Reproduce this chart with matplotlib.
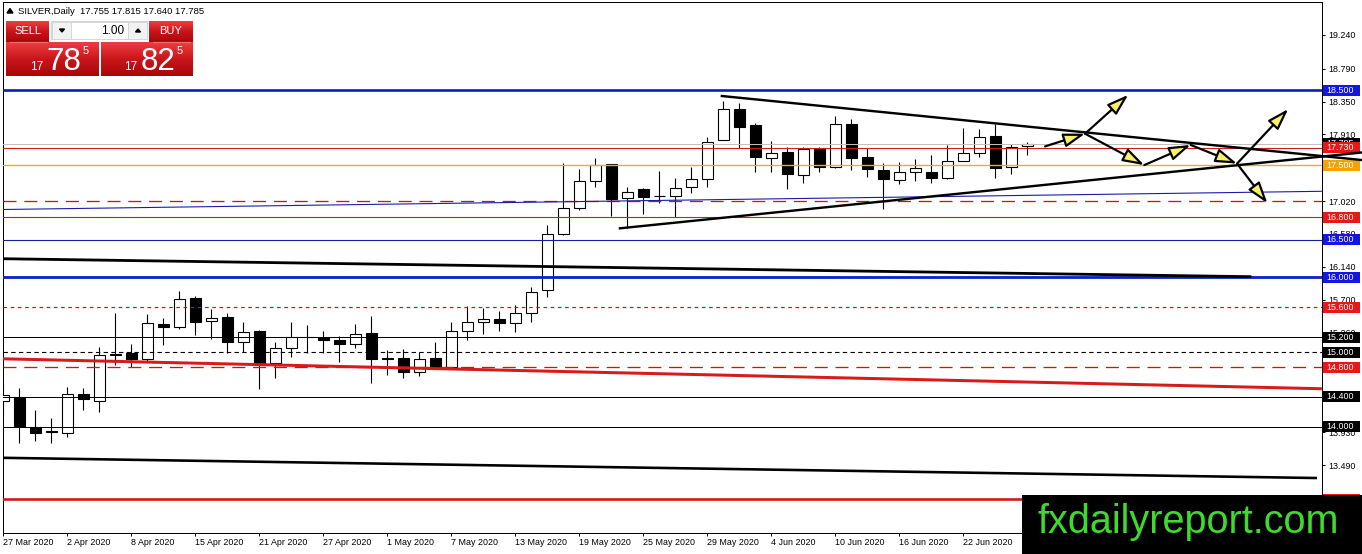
import numpy as np
import matplotlib.pyplot as plt
from matplotlib.patches import Rectangle, Polygon
from matplotlib.transforms import blended_transform_factory
from matplotlib.colors import LinearSegmentedColormap

plt.rcParams['font.family'] = ['Liberation Sans', 'DejaVu Sans']

# SILVER daily candles, 27 Mar 2020 .. 26 Jun 2020 (bar index 0..64)
opens = [14.346, 14.40, 14.00, 13.94, 13.914, 14.44, 14.35, 14.97, 14.984, 14.904,
         15.375, 15.331, 15.719, 15.42, 15.465, 15.139, 15.282, 14.85, 15.05, 15.205,
         15.19, 15.161, 15.104, 15.259, 14.92, 14.92, 14.737, 14.917, 14.80, 15.286,
         15.406, 15.44, 15.393, 15.518, 15.83, 16.575, 16.923, 17.292, 17.515, 17.056,
         17.18, 17.09, 17.087, 17.204, 17.31, 17.836, 18.246, 18.036, 17.591, 17.672,
         17.368, 17.716, 17.471, 18.05, 17.605, 17.435, 17.301, 17.404, 17.404, 17.324,
         17.559, 17.658, 17.89, 17.471, 17.755]
highs = [14.60, 14.52, 14.225, 14.115, 14.53, 14.52, 15.064, 15.527, 15.108, 15.509,
         15.451, 15.817, 15.75, 15.572, 15.52, 15.398, 15.295, 15.14, 15.406, 15.362,
         15.286, 15.22, 15.375, 15.482, 15.028, 15.037, 15.005, 15.14, 15.398, 15.616,
         15.585, 15.55, 15.63, 15.874, 16.699, 17.524, 17.444, 17.591, 17.52, 17.212,
         17.19, 17.42, 17.324, 17.47, 17.88, 18.357, 18.335, 18.06, 17.822, 17.738,
         17.746, 17.738, 18.157, 18.113, 17.725, 17.532, 17.538, 17.582, 17.635, 17.769,
         17.992, 17.979, 18.05, 17.782, 17.815]
lows = [14.13, 13.78, 13.815, 13.78, 13.87, 14.225, 14.203, 14.827, 14.80, 14.87,
        15.095, 15.304, 15.228, 15.17, 14.984, 15.005, 14.502, 14.65, 14.93, 14.984,
        14.984, 14.87, 15.058, 14.583, 14.693, 14.657, 14.68, 14.79, 14.79, 15.161,
        15.238, 15.282, 15.272, 15.406, 15.73, 16.56, 16.90, 17.211, 16.82, 16.655,
        16.846, 16.99, 16.81, 17.131, 17.21, 17.83, 17.725, 17.412, 17.412, 17.177,
        17.265, 17.412, 17.46, 17.435, 17.337, 16.909, 17.243, 17.292, 17.257, 17.32,
        17.55, 17.613, 17.332, 17.381, 17.64]
closes = [14.426, 14.01, 13.92, 13.93, 14.435, 14.37, 14.957, 14.96, 14.904, 15.385,
          15.331, 15.706, 15.406, 15.45, 15.139, 15.272, 14.858, 15.05, 15.197, 15.198,
          15.165, 15.104, 15.238, 14.907, 14.905, 14.737, 14.903, 14.80, 15.286, 15.406,
          15.44, 15.393, 15.518, 15.807, 16.575, 16.923, 17.292, 17.502, 17.047, 17.144,
          17.07, 17.085, 17.198, 17.31, 17.805, 18.246, 18.014, 17.605, 17.658, 17.377,
          17.712, 17.471, 18.05, 17.591, 17.444, 17.31, 17.404, 17.457, 17.324, 17.555,
          17.658, 17.88, 17.457, 17.746, 17.785]

date_ticks = [0, 4, 8, 12, 16, 20, 24, 28, 32, 36, 40, 44, 48, 52, 56, 60]
date_labels = ['27 Mar 2020', '2 Apr 2020', '8 Apr 2020', '15 Apr 2020', '21 Apr 2020',
               '27 Apr 2020', '1 May 2020', '7 May 2020', '13 May 2020', '19 May 2020',
               '25 May 2020', '29 May 2020', '4 Jun 2020', '10 Jun 2020', '16 Jun 2020',
               '22 Jun 2020']
price_ticks = [19.240, 18.790, 18.350, 17.910, 17.470, 17.020, 16.580, 16.140,
               15.700, 15.260, 14.820, 14.375, 13.930, 13.490]

# horizontal levels drawn on the chart
levels = [18.5, 17.785, 17.73, 17.5, 17.02, 16.8, 16.5, 16.0, 15.6, 15.2, 15.0, 14.8,
          14.4, 14.0, 13.03]

# sloped trend lines (bar index, price) pairs
trend_x = [(-0.22, 82.4), (-0.22, 78.0), (-0.22, 82.4), (-0.22, 82.1)]
trend_y = [(16.906, 17.15), (16.249, 16.008), (14.911, 14.51), (13.587, 13.316)]
# triangle lines
tri_x = [(38.53, 84.9), (44.9, 84.9)]
tri_y = [(16.655, 17.669), (18.424, 17.568)]
# scenario arrows
arrow_x = [65.1, 67.6, 70.3, 71.3, 74.2, 77.1, 80.3, 79.0]
arrow_y = [17.75, 17.92, 18.44, 17.50, 17.77, 17.52, 18.25, 16.99]
arrow_pairs = [(0, 1), (1, 2), (1, 3), (3, 4), (4, 5), (5, 6), (5, 7)]

W, H = 1362, 554
fig = plt.figure(figsize=(W / 100, H / 100), dpi=100)
ax = fig.add_axes([3 / W, (H - 533) / H, (1322 - 3) / W, (533 - 2) / H])
ax.set_xlim(-0.03, 82.41)
ax.set_ylim(12.581, 19.681)

px = 0.72  # one pixel in points

# candles
o = np.array(opens); h = np.array(highs); l = np.array(lows); c = np.array(closes)
x = np.arange(len(o))
ax.vlines(x, l, h, color='black', lw=1.1 * px, zorder=2)
bottom = np.minimum(o, c)
height = np.maximum(np.abs(c - o), 0.004)
faces = ['white' if cc > oo else 'black' for oo, cc in zip(o, c)]
ax.bar(x, height, bottom=bottom, width=0.66, color=faces, edgecolor='black',
       linewidth=1.1 * px, zorder=3)

# level styles
lvl_style = {
    18.5: ('#0A1CB0', 2.6 * px, '-'),
    17.785: ('#C0C0C0', px, '-'),
    17.73: ('#C81E1E', 1.1 * px, '-'),
    17.5: ('#E6B020', 1.4 * px, '-'),
    17.02: ('#D41010', 1.3 * px, (0, (10, 6))),
    16.8: ('#C81E1E', 1.1 * px, '-'),
    16.5: ('#1020A0', 1.1 * px, '-'),
    16.0: ('#0B22C8', 2.8 * px, '-'),
    15.6: ('#D41010', 1.2 * px, (0, (3, 3))),
    15.2: ('black', px, '-'),
    15.0: ('black', 1.1 * px, (0, (4, 3))),
    14.8: ('#D41010', 1.3 * px, (0, (10, 6))),
    14.4: ('black', px, '-'),
    14.0: ('black', px, '-'),
    13.03: ('#D01818', 2.6 * px, '-'),
}
for lv in levels:
    col, lw, ls = lvl_style[lv]
    ax.axhline(lv, color=col, lw=lw, linestyle=ls, zorder=4)

trend_style = [('#1A1AA8', 1.1 * px), ('black', 2.8 * px), ('#D81A1A', 3.0 * px),
               ('black', 2.6 * px)]
for (xs, ys), (col, lw) in zip(zip(trend_x, trend_y), trend_style):
    ax.plot(xs, ys, color=col, lw=lw, zorder=4, solid_capstyle='butt')

for xs, ys in zip(tri_x, tri_y):
    ax.plot(xs, ys, color='black', lw=2.4 * px, zorder=6, clip_on=False)

for a, b in arrow_pairs:
    ax.annotate('', xy=(arrow_x[b], arrow_y[b]), xytext=(arrow_x[a], arrow_y[a]),
                annotation_clip=False,
                arrowprops=dict(arrowstyle='-|>,head_length=1.3,head_width=0.42',
                                mutation_scale=10, fc='#F6F06A', ec='black',
                                lw=2.2 * px, shrinkA=0, shrinkB=0), zorder=7)

# axes cosmetics
for s in ax.spines.values():
    s.set_color('black')
    s.set_linewidth(px)
ax.yaxis.tick_right()
ax.set_yticks(price_ticks)
ax.set_yticklabels([f'{v:.3f}' for v in price_ticks])
ax.set_xticks(date_ticks)
ax.set_xticklabels(date_labels)
for t in ax.get_xticklabels():
    t.set_ha('left')
ax.tick_params(axis='y', length=2.2, width=px, pad=2.2, labelsize=6.4, colors='black')
ax.tick_params(axis='x', length=2.2, width=px, pad=1.5, labelsize=6.4, colors='black')

# price label boxes on the right scale
box_color = {18.5: '#1414E6', 17.785: 'black', 17.73: '#E81818', 17.5: '#F5A300',
             16.8: '#E81818', 16.5: '#1414E6', 16.0: '#1414E6', 15.6: '#E81818',
             15.2: 'black', 15.0: 'black', 14.8: '#E81818', 14.4: 'black',
             14.0: 'black', 13.03: '#E81818'}
tr = blended_transform_factory(fig.transFigure, ax.transData)
bh = 11 / 74.78
for lv in levels:
    if lv not in box_color:
        continue
    ax.add_patch(Rectangle((1323 / W, lv - bh / 2), 37 / W, bh, transform=tr,
                           facecolor=box_color[lv], edgecolor='none', clip_on=False,
                           zorder=5))
    ax.text(1326.5 / W, lv, f'{lv:.3f}', transform=tr, color='white', fontsize=6.4,
            va='center', ha='left', clip_on=False, zorder=5)

# overlay in pixel coordinates for the trade panel and branding
ov = fig.add_axes([0, 0, 1, 1])
ov.set_zorder(10)
ov.patch.set_visible(False)
ov.axis('off')

red_cmap = LinearSegmentedColormap.from_list('redgrad', ['#EE3D42', '#C8161B', '#A9070B'])
grad = np.linspace(0, 1, 40).reshape(-1, 1)


def red_block(x0, y0, x1, y1):
    ov.imshow(grad, cmap=red_cmap, extent=(x0, x1, y1, y0), aspect='auto',
              origin='upper', zorder=1)


red_block(6, 21, 49, 42)
red_block(6, 42, 99, 76)
red_block(149, 21, 193, 42)
red_block(101, 42, 193, 76)
ov.plot([10, 47], [42, 42], color='#F07070', lw=0.8, zorder=2)
ov.plot([153, 190], [42, 42], color='#F07070', lw=0.8, zorder=2)

ov.add_patch(Rectangle((51, 21), 97, 19, facecolor='#D6D6D6', edgecolor='none', zorder=1))
ov.add_patch(Rectangle((52.5, 22.5), 18.5, 16, facecolor='#F2F2F2', edgecolor='none', zorder=2))
ov.add_patch(Rectangle((72, 22.5), 56, 16, facecolor='white', edgecolor='none', zorder=2))
ov.add_patch(Rectangle((129, 22.5), 18, 16, facecolor='#F2F2F2', edgecolor='none', zorder=2))
ov.add_patch(Polygon([(59.5, 29), (64.5, 29), (62, 32)], closed=True, color='black', zorder=3))
ov.add_patch(Polygon([(135.5, 32), (140.5, 32), (138, 29)], closed=True, color='black', zorder=3))
ov.text(124, 30.5, '1.00', fontsize=8.5, ha='right', va='center', color='black', zorder=3)

ov.text(27.5, 31.5, 'SELL', fontsize=8, ha='center', va='center', color='white', zorder=3)
ov.text(171, 31.5, 'BUY', fontsize=8, ha='center', va='center', color='white', zorder=3)
ov.text(30, 70, '17', fontsize=8.5, ha='left', va='baseline', color='white', zorder=3)
ov.text(46.5, 70, '78', fontsize=22.5, ha='left', va='baseline', color='white', zorder=3)
ov.text(83, 46, '5', fontsize=8, ha='left', va='top', color='white', zorder=3)
ov.text(124, 70, '17', fontsize=8.5, ha='left', va='baseline', color='white', zorder=3)
ov.text(140.5, 70, '82', fontsize=22.5, ha='left', va='baseline', color='white', zorder=3)
ov.text(177, 46, '5', fontsize=8, ha='left', va='top', color='white', zorder=3)

ov.add_patch(Polygon([(7, 13), (13, 13), (10, 8.5)], closed=True, color='black', zorder=3))
ov.text(18, 11, 'SILVER,Daily  17.755 17.815 17.640 17.785', fontsize=6.8,
        ha='left', va='center', color='black', zorder=3)

ov.add_patch(Rectangle((1022, 495), 340, 59, facecolor='black', edgecolor='none', zorder=4))
ov.text(1037, 533, 'fxdailyreport.com', fontsize=28.5, ha='left', va='baseline',
        color='#3EDA2C', zorder=5)

ov.set_xlim(0, W)
ov.set_ylim(H, 0)

fig.savefig('out.png', dpi=100, facecolor='white')
